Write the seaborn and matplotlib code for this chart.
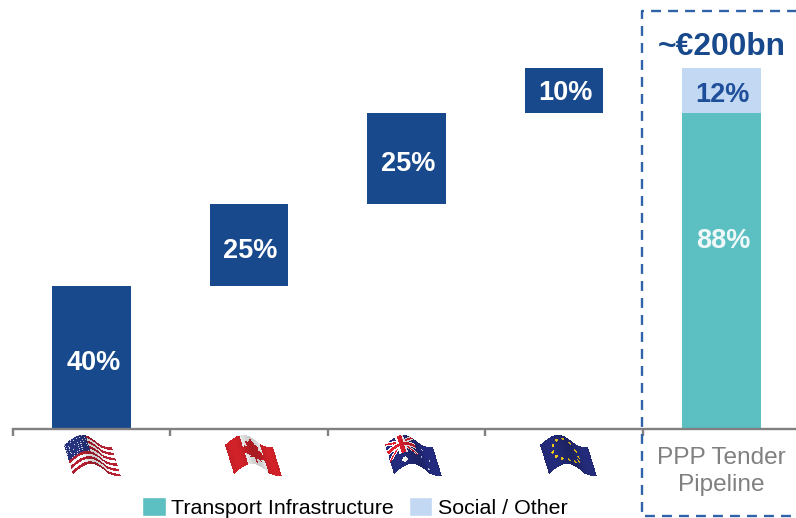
import numpy as np
import pandas as pd
import seaborn as sns
import matplotlib.pyplot as plt
from matplotlib.patches import Patch
from matplotlib.path import Path

# Data
stages = ["US", "Canada", "Australia", "Europe", "PPP Tender\nPipeline"]
region_values = [79, 45.5, 50.5, 25]
region_labels = ["40%", "25%", "25%", "10%"]
transport_value = 175
social_value = 25
transport_label = "88%"
social_label = "12%"
total_label = "~€200bn"

NAVY = "#17498C"
TEAL = "#5CBFC2"
LIGHT = "#C3D8F3"
GREY = "#808080"
W, H = 796, 518

sns.set_theme(style="white")
plt.rcParams["font.family"] = ["Liberation Sans", "DejaVu Sans"]


def stripes_flag(u, v):
    img = np.ones(u.shape + (3,))
    img[(np.floor(v * 11) % 2) == 0] = (0.72, 0.13, 0.2)
    canton = (u < 0.45) & (v < 0.55)
    img[canton] = (0.15, 0.2, 0.5)
    dots = (np.sin(u * 110) > 0.45) & (np.sin(v * 95) > 0.45) & canton
    img[dots] = (0.85, 0.85, 0.95)
    return img


def maple_flag(u, v):
    img = np.ones(u.shape + (3,))
    red = (0.82, 0.13, 0.16)
    img[(u < 0.3) | (u > 0.72)] = red
    leaf = Path([(0.5, 0.08), (0.44, 0.24), (0.37, 0.2), (0.4, 0.42), (0.34, 0.34),
                 (0.32, 0.4), (0.26, 0.38), (0.3, 0.54), (0.27, 0.58), (0.4, 0.7),
                 (0.38, 0.76), (0.49, 0.73), (0.49, 0.92), (0.52, 0.92), (0.52, 0.73),
                 (0.63, 0.76), (0.61, 0.7), (0.74, 0.58), (0.71, 0.54), (0.75, 0.38),
                 (0.69, 0.4), (0.67, 0.34), (0.61, 0.42), (0.64, 0.2), (0.57, 0.24)])
    inside = leaf.contains_points(np.column_stack([u.ravel(), v.ravel()])).reshape(u.shape)
    img[inside] = red
    return img


def add_stars(img, u, v, stars, radius, colour):
    for su, sv in stars:
        img[((u - su) ** 2 + ((v - sv) * 0.66) ** 2) < radius ** 2] = colour


def southern_flag(u, v):
    img = np.empty(u.shape + (3,))
    img[:] = (0.14, 0.17, 0.5)
    cu, cv = u / 0.58, v / 0.58
    jack = (cu < 1) & (cv < 1)
    diag = (np.abs(cu - cv) < 0.12) | (np.abs(cu + cv - 1) < 0.12)
    cross = (np.abs(cu - 0.5) < 0.15) | (np.abs(cv - 0.5) < 0.15)
    img[jack & diag] = (1, 1, 1)
    img[jack & (np.abs(cu - cv) < 0.05)] = (0.88, 0.12, 0.18)
    img[jack & (np.abs(cu + cv - 1) < 0.05)] = (0.88, 0.12, 0.18)
    img[jack & cross] = (1, 1, 1)
    img[jack & ((np.abs(cu - 0.5) < 0.08) | (np.abs(cv - 0.5) < 0.08))] = (0.88, 0.12, 0.18)
    add_stars(img, u, v, [(0.27, 0.8)], 0.055, (1, 1, 1))
    add_stars(img, u, v, [(0.74, 0.2), (0.83, 0.5), (0.66, 0.55), (0.76, 0.84)], 0.02, (0.8, 0.8, 0.9))
    return img


def circle_flag(u, v):
    img = np.empty(u.shape + (3,))
    img[:] = (0.14, 0.17, 0.48)
    angles = np.arange(12) * np.pi / 6
    stars = [(0.45 + 0.27 * np.cos(a), 0.48 + 0.36 * np.sin(a)) for a in angles]
    add_stars(img, u, v, stars, 0.03, (0.96, 0.8, 0.1))
    return img


def draw_flag(ax, painter, x0, y0):
    # waving sheet, sampled on a fine grid so it can be warped
    ue, ve = np.meshgrid(np.linspace(0, 1, 161), np.linspace(0, 1, 101))
    wave = np.where(ue < 0.75, -10 * np.sin(np.pi * ue / 0.75), 2.5 * np.sin(np.pi * (ue - 0.75) / 0.5))
    X = x0 + ue * 48 + ve * 9
    Y = y0 + ve * 29 + wave
    uc = (ue[:-1, :-1] + ue[1:, 1:]) / 2
    vc = (ve[:-1, :-1] + ve[1:, 1:]) / 2
    shade = 0.9 + 0.1 * np.cos(uc * 2 * np.pi / 0.75 - 1.2)
    img = np.clip(painter(uc, vc) * shade[..., None], 0, 1)
    ax.pcolormesh(X, Y, img, shading="flat", edgecolors="none", antialiased=False, rasterized=True)


fig = plt.figure(figsize=(W / 100, H / 100), dpi=100)
ax = fig.add_axes([13 / W, 1 - 429 / H, 787 / W, 429 / H])

# one seaborn layer per colour, floating on the running total
bar_kws = dict(x="stage", y="value", order=stages, saturation=1, width=0.5, linewidth=0, ax=ax)
bottoms = np.concatenate([[0], np.cumsum(region_values)[:-1]])
regions = pd.DataFrame({"stage": stages[:4], "value": region_values})
sns.barplot(data=regions, bottom=bottoms, color=NAVY, **bar_kws)
pipeline = pd.DataFrame({"stage": stages[4:], "value": [transport_value]})
sns.barplot(data=pipeline, color=TEAL, **bar_kws)
pipeline = pd.DataFrame({"stage": stages[4:], "value": [social_value]})
sns.barplot(data=pipeline, bottom=transport_value, color=LIGHT, **bar_kws)

ax.set_xlim(-0.5, 4.5)
ax.set_ylim(0, 237.7)
ax.set_xlabel("")
ax.set_ylabel("")
ax.set_yticks([])
sns.despine(ax=ax, left=True)
ax.spines["bottom"].set_color(GREY)
ax.spines["bottom"].set_linewidth(1.7)
ax.set_xticks(np.arange(-0.5, 4.5), labels=[""] * 5)
ax.set_xticks(np.arange(5), labels=["", "", "", "", stages[4]], minor=True)
ax.tick_params(axis="x", which="major", bottom=True, length=5, width=1.7, color=GREY)
ax.tick_params(axis="x", which="minor", bottom=False, length=0, pad=13, labelsize=17.6, labelcolor=GREY)
for tick_label in ax.get_xminorticklabels():
    tick_label.set_linespacing(1.3)

for i, label in enumerate(region_labels):
    # the small top box has its label sitting closer to centre
    nudge = 1.5 if i == 3 else 3
    ax.text(i + 0.01, bottoms[i] + region_values[i] / 2 - nudge, label, ha="center", va="center",
            color="white", fontsize=19.5, fontweight="bold")
ax.text(4.01, 104, transport_label, ha="center", va="center",
        color="white", fontsize=19.5, fontweight="bold", alpha=0.9)
ax.text(4.01, transport_value + social_value / 2 - 2.5, social_label, ha="center", va="center",
        color="#1F4F9B", fontsize=19.5, fontweight="bold")
ax.text(4, transport_value + social_value + 11.5, total_label, ha="center", va="center",
        color=NAVY, fontsize=22.9, fontweight="bold")

# pixel overlay for the flags and the dashed frame (open on the right, cut by the image edge)
over = fig.add_axes([0, 0, 1, 1], xlim=(0, W), ylim=(H, 0))
over.axis("off")
over.patch.set_alpha(0)
draw_flag(over, stripes_flag, 64, 445)
draw_flag(over, maple_flag, 225, 445)
draw_flag(over, southern_flag, 385, 445)
draw_flag(over, circle_flag, 540, 445)
over.plot([W + 4, 642, 642, W + 4], [11, 11, 516, 516], color="#2F62A8", linewidth=1.7,
          linestyle=(0, (4.2, 3)))
over.set_xlim(0, W)
over.set_ylim(H, 0)

handles = [Patch(facecolor=TEAL, label="Transport Infrastructure"),
           Patch(facecolor=LIGHT, label="Social / Other")]
fig.legend(handles=handles, ncol=2, loc="center left", bbox_to_anchor=(123 / W, 1 - 507.5 / H), frameon=False,
           fontsize=15.4, labelcolor="black", handlelength=1.1, handleheight=1.0, handletextpad=0.26,
           columnspacing=0.68, borderpad=0.4)

fig.savefig("out.png", dpi=100)
